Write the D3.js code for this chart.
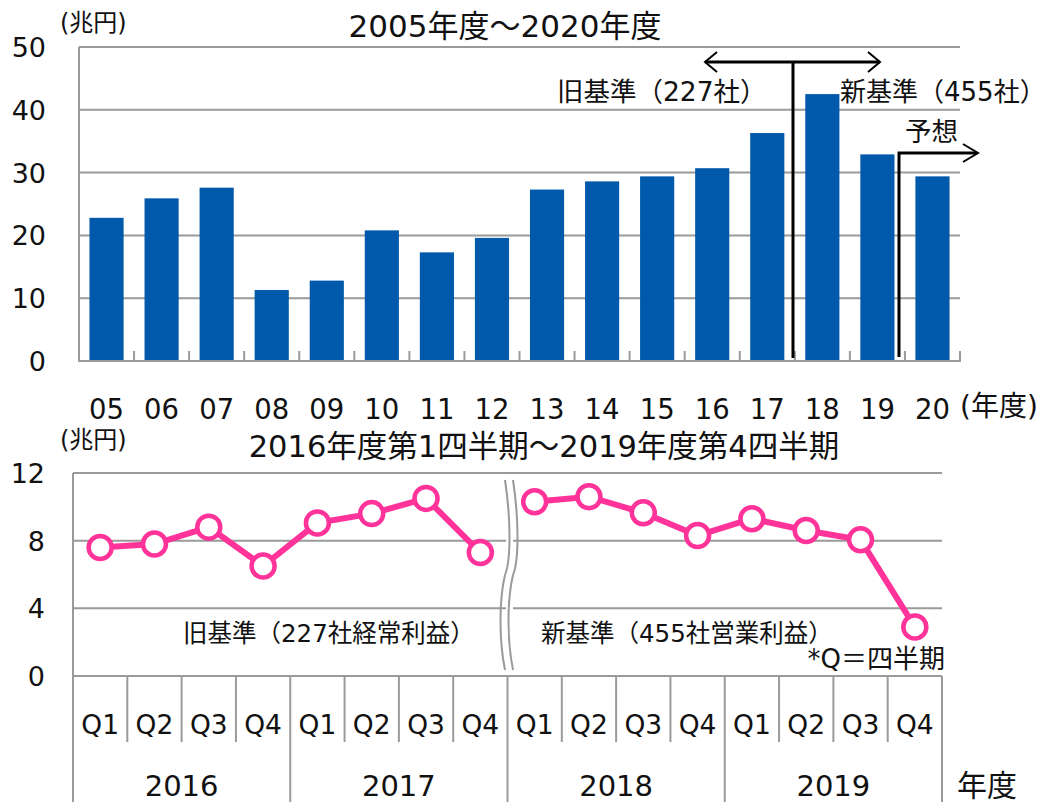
<!DOCTYPE html>
<html><head><meta charset="utf-8">
<script src="https://cdn.jsdelivr.net/npm/d3@7"></script>
<style>body{margin:0;background:#fff}svg{display:block}text{font-family:"DejaVu Sans","Noto Sans CJK JP",sans-serif;fill:#111}</style>
</head><body><svg id="c" width="1050" height="802"></svg>
<script>
const years = ["05","06","07","08","09","10","11","12","13","14","15","16","17","18","19","20"];
const profits = [22.8,25.9,27.6,11.3,12.8,20.8,17.3,19.6,27.3,28.6,29.4,30.7,36.3,42.5,32.9,29.4];
const topTicks = [0,10,20,30,40,50];
const quarters = ["Q1","Q2","Q3","Q4","Q1","Q2","Q3","Q4","Q1","Q2","Q3","Q4","Q1","Q2","Q3","Q4"];
const fiscalYears = ["2016","2017","2018","2019"];
const quarterly = [7.6,7.8,8.8,6.5,9.05,9.6,10.5,7.3,10.3,10.6,9.65,8.3,9.3,8.6,8.05,2.9];
const bottomTicks = [0,4,8,12];

const svg = d3.select("#c");
const grid = "#9a9a9a", blue = "#0059AB", pink = "#FF3399";

// ---------- top chart ----------
const x1 = d3.scaleBand().domain(years).range([79,960]).paddingInner(0.38).paddingOuter(0.19);
const y1 = d3.scaleLinear().domain([0,50]).range([361,47]);
const gTop = svg.append("g");
gTop.selectAll("line.g").data(topTicks.filter(d=>d>0)).join("line")
  .attr("x1",79).attr("x2",960).attr("y1",d=>y1(d)).attr("y2",d=>y1(d))
  .attr("stroke",grid).attr("stroke-width",2);
gTop.selectAll("rect").data(years).join("rect")
  .attr("x",d=>x1(d)).attr("width",x1.bandwidth())
  .attr("y",(d,i)=>y1(profits[i])).attr("height",(d,i)=>y1(0)-y1(profits[i]))
  .attr("fill",blue);
gTop.append("line").attr("x1",79).attr("x2",79).attr("y1",47).attr("y2",362).attr("stroke",grid).attr("stroke-width",2);
gTop.append("line").attr("x1",78).attr("x2",961).attr("y1",361).attr("y2",361).attr("stroke",grid).attr("stroke-width",2);
const boundaries1 = d3.range(1,17).map(i=>79+i*(881/16));
gTop.selectAll("line.t").data(boundaries1).join("line")
  .attr("x1",d=>d).attr("x2",d=>d).attr("y1",351).attr("y2",361).attr("stroke",grid).attr("stroke-width",2);
gTop.selectAll("text.yt").data(topTicks).join("text")
  .attr("x",46).attr("y",d=>y1(d)+10).attr("text-anchor","end").attr("font-size",27).text(d=>d);
gTop.selectAll("text.xt").data(years).join("text")
  .attr("x",d=>x1(d)+x1.bandwidth()/2).attr("y",419).attr("text-anchor","middle").attr("font-size",27.5).text(d=>d);
gTop.append("text").attr("x",960).attr("y",416).attr("font-size",28).text("(年度)");
gTop.append("text").attr("x",60).attr("y",31).attr("font-size",24).text("(兆円)");
gTop.append("text").attr("x",505).attr("y",37).attr("text-anchor","middle").attr("font-size",31).text("2005年度～2020年度");
gTop.append("text").attr("x",557).attr("y",101).attr("font-size",26.5).text("旧基準（227社）");
gTop.append("text").attr("x",840).attr("y",101).attr("font-size",26).text("新基準（455社）");
gTop.append("text").attr("x",905).attr("y",141).attr("font-size",26.5).text("予想");
const ann = gTop.append("g").attr("stroke","#000").attr("stroke-width",3).attr("fill","none");
ann.append("line").attr("x1",793).attr("x2",793).attr("y1",62).attr("y2",358);
ann.append("line").attr("x1",705).attr("x2",880).attr("y1",62).attr("y2",62);
ann.append("path").attr("d","M717,52 L705,62 L717,72").attr("stroke-width",2);
ann.append("path").attr("d","M868,52 L880,62 L868,72").attr("stroke-width",2);
ann.append("path").attr("d","M899,357 L899,153 L977,153");
ann.append("path").attr("d","M963,144 L978,153 L963,162").attr("stroke-width",2);

// ---------- bottom chart ----------
const L = 73, R = 942;
const x2 = d3.scaleBand().domain(d3.range(16)).range([L,R]);
const y2 = d3.scaleLinear().domain([0,12]).range([676,473]);
const gBot = svg.append("g");
gBot.selectAll("line.g").data(bottomTicks).join("line")
  .attr("x1",L).attr("x2",R).attr("y1",d=>y2(d)).attr("y2",d=>y2(d))
  .attr("stroke",grid).attr("stroke-width",2);
gBot.append("line").attr("x1",L).attr("x2",L).attr("y1",473).attr("y2",802).attr("stroke",grid).attr("stroke-width",2);
gBot.selectAll("line.q").data(d3.range(1,17)).join("line")
  .attr("x1",i=>L+i*x2.step()).attr("x2",i=>L+i*x2.step())
  .attr("y1",676).attr("y2",i=>i%4===0?802:742).attr("stroke",grid).attr("stroke-width",2);
gBot.selectAll("text.yt").data(bottomTicks).join("text")
  .attr("x",45).attr("y",d=>y2(d)+10).attr("text-anchor","end").attr("font-size",27).text(d=>d);
gBot.selectAll("text.q").data(quarters).join("text")
  .attr("x",(d,i)=>x2(i)+x2.step()/2).attr("y",734).attr("text-anchor","middle").attr("font-size",26.5).text(d=>d);
gBot.selectAll("text.fy").data(fiscalYears).join("text")
  .attr("x",(d,i)=>L+(i*4+2)*x2.step()).attr("y",796).attr("text-anchor","middle").attr("font-size",29).text(d=>d);
gBot.append("text").attr("x",957).attr("y",796).attr("font-size",30).text("年度");
gBot.append("text").attr("x",60).attr("y",448).attr("font-size",24).text("(兆円)");
gBot.append("text").attr("x",544).attr("y",457).attr("text-anchor","middle").attr("font-size",30.5).text("2016年度第1四半期～2019年度第4四半期");
gBot.append("text").attr("x",183).attr("y",642).attr("font-size",24.5).text("旧基準（227社経常利益）");
gBot.append("text").attr("x",541).attr("y",642).attr("font-size",24.5).text("新基準（455社営業利益）");
gBot.append("text").attr("x",945).attr("y",668).attr("text-anchor","end").attr("font-size",26).text("*Q＝四半期");
// break mark
const wave = (x0)=>{const p=d3.path();p.moveTo(x0,480);
  p.bezierCurveTo(x0+6,520,x0+6,560,x0,575);p.bezierCurveTo(x0-6,600,x0-6,640,x0,670);return p.toString();};
gBot.append("rect").attr("x",506).attr("y",478).attr("width",7).attr("height",194).attr("fill","#fff");
gBot.append("path").attr("d",wave(505)).attr("fill","none").attr("stroke",grid).attr("stroke-width",2);
gBot.append("path").attr("d",wave(513)).attr("fill","none").attr("stroke",grid).attr("stroke-width",2);
// lines
const pts = quarterly.map((v,i)=>[x2(i)+x2.step()/2, y2(v)]);
const line = d3.line();
gBot.append("path").attr("d",line(pts.slice(0,8))).attr("fill","none").attr("stroke",pink).attr("stroke-width",6);
gBot.append("path").attr("d",line(pts.slice(8))).attr("fill","none").attr("stroke",pink).attr("stroke-width",6);
gBot.selectAll("circle").data(pts).join("circle")
  .attr("cx",d=>d[0]).attr("cy",d=>d[1]).attr("r",11.5)
  .attr("fill","#fff").attr("stroke",pink).attr("stroke-width",4.5);
</script></body></html>
